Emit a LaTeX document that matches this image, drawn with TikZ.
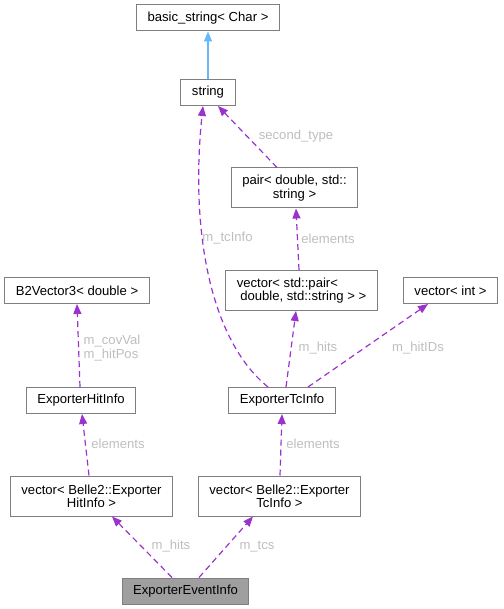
\documentclass[tikz,border=0pt]{standalone}
\usepackage{fontspec}
\setmainfont{Liberation Sans}
\usetikzlibrary{arrows.meta}
\definecolor{usepurple}{HTML}{9A32CD}
\definecolor{inhblue}{HTML}{63B8FF}
\definecolor{boxgray}{HTML}{7F7F7F}
\definecolor{lblgray}{HTML}{BEBEBE}
\begin{document}
\begin{tikzpicture}[x=1pt, y=-1pt,
    every node/.style={font=\fontsize{13.1}{13.3}\selectfont},
    cls/.style={draw=boxgray, line width=1pt, fill=white, inner xsep=11pt,
                inner ysep=4pt, minimum height=26pt},
    cls2/.style={cls, minimum height=40pt},
    uses/.style={usepurple, line width=1.2pt, dash pattern=on 6pt off 4pt,
                 -{Triangle[length=10pt, width=8pt]}},
    inh/.style={inhblue, line width=1.2pt, -{Triangle[length=10pt, width=8pt]}},
    lbl/.style={text=lblgray, inner sep=0pt}]
\useasboundingbox (0,0) rectangle (503,609);
\node[cls] (basic) at (208,18) {basic\_string< Char >};
\node[cls] (str) at (208,92.5) {string};
\node[cls2, align=center] (pair) at (294.5,188) {pair< double, std::\\string >};
\node[cls] (b2vec) at (77,290.5) {B2Vector3< double >};
\node[cls2, align=left] (vecpair) at (301.5,290.5) {vector< std::pair<\\\hspace*{3.5pt}double, std::string > >};
\node[cls] (vecint) at (450.5,290.5) {vector< int >};
\node[cls] (hit) at (81,400.5) {ExporterHitInfo};
\node[cls] (tc) at (282,400.5) {ExporterTcInfo};
\node[cls2, align=center] (vechit) at (91.5,496) {vector< Belle2::Exporter\\HitInfo >};
\node[cls2, align=center] (vectc) at (279.5,496) {vector< Belle2::Exporter\\TcInfo >};
\node[cls, fill=boxgray!75] (event) at (185.5,591) {ExporterEventInfo};

\draw[inh] (str) -- (basic);
\draw[uses] ([xshift=-17.5pt]pair.north) -- ([xshift=10pt]str.south);
\draw[uses] ([xshift=-2.5pt]vecpair.north) -- ([xshift=1.5pt]pair.south);
\draw[uses] ([xshift=-14pt]tc.north) .. controls (210,340) and (190,230) .. ([xshift=-5pt]str.south);
\draw[uses] ([xshift=4pt]tc.north) -- ([xshift=-5.5pt]vecpair.south);
\draw[uses] ([xshift=26pt]tc.north) -- ([xshift=-22.5pt]vecint.south);
\draw[uses] ([xshift=-1pt]hit.north) -- (b2vec.south);
\draw[uses] ([xshift=-2.5pt]vechit.north) -- ([xshift=1pt]hit.south);
\draw[uses] ([xshift=0.5pt]vectc.north) -- (tc.south);
\draw[uses] ([xshift=-13.5pt]event.north) -- ([xshift=20.5pt]vechit.south);
\draw[uses] ([xshift=13.5pt]event.north) -- ([xshift=-26.5pt]vectc.south);

\node[lbl] (lsecond) at (296,136) {second\_type};
\node[lbl] (lelpair) at (328,238.5) {elements};
\node[lbl] (ltcinfo) at (227.5,238.5) {m\_tcInfo};
\node[lbl] (lhits) at (318,348) {m\_hits};
\node[lbl] (lhitids) at (418,348) {m\_hitIDs};
\node[lbl, align=left] (lcov) at (112,348) {m\_covVal\\m\_hitPos};
\node[lbl] (lelhit) at (118,443.5) {elements};
\node[lbl] (leltc) at (313,443.5) {elements};
\node[lbl] (lvhits) at (171,546.5) {m\_hits};
\node[lbl] (lvtcs) at (257,546.5) {m\_tcs};
\end{tikzpicture}
\end{document}
